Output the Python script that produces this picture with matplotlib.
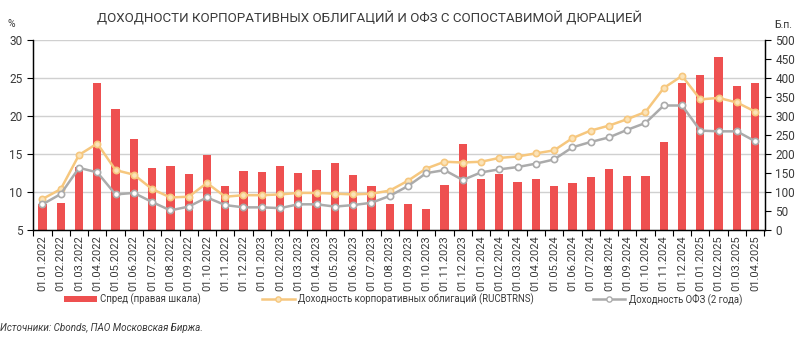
import matplotlib
matplotlib.use("Agg")
import matplotlib.pyplot as plt
from matplotlib.lines import Line2D
from matplotlib.patches import Patch
import numpy as np

plt.rcParams['font.family'] = ['Roboto', 'DejaVu Sans']

dates = [f"01.{m:02d}.{y}" for y in (2022, 2023, 2024, 2025) for m in range(1, 13)][:40]

spread_bp = [70, 72, 165, 386, 318, 240, 164, 169, 147, 198, 116, 155,
             154, 170, 151, 157, 177, 146, 115, 68, 70, 55, 118, 226,
             135, 149, 126, 135, 116, 125, 140, 161, 143, 143, 231, 388,
             407, 456, 380, 388]

corp_yield = [9.1, 10.4, 14.9, 16.4, 12.9, 12.3, 10.4, 9.3, 9.4, 11.2, 9.4, 9.6,
              9.6, 9.7, 9.9, 9.9, 9.8, 9.7, 9.8, 10.2, 11.5, 13.1, 14.0, 13.9,
              14.0, 14.5, 14.7, 15.1, 15.5, 17.1, 18.1, 18.75, 19.6, 20.55, 23.7, 25.3,
              22.2, 22.4, 21.8, 20.6]

ofz_yield = [8.4, 9.75, 13.2, 12.6, 9.7, 9.9, 8.7, 7.6, 8.1, 9.3, 8.3, 8.0,
             8.0, 7.9, 8.4, 8.4, 8.1, 8.3, 8.6, 9.5, 10.8, 12.5, 12.9, 11.6,
             12.6, 13.0, 13.3, 13.75, 14.3, 15.9, 16.6, 17.2, 18.2, 19.1, 21.4, 21.4,
             18.1, 18.0, 18.0, 16.7]

title = "ДОХОДНОСТИ КОРПОРАТИВНЫХ ОБЛИГАЦИЙ И ОФЗ С СОПОСТАВИМОЙ ДЮРАЦИЕЙ"
lbl_spread = "Спред (правая шкала)"
lbl_corp = "Доходность корпоративных облигаций (RUCBTRNS)"
lbl_ofz = "Доходность ОФЗ (2 года)"
source = "Источники: Cbonds, ПАО Московская Биржа."

RED = "#EE5050"
ORANGE = "#F6C77E"
GREY = "#ABABAB"
TXT = "#3A3A3A"

fig = plt.figure(figsize=(8.0, 3.43), dpi=100)
ax = fig.add_axes([0.041, 0.329, 0.915, 0.554])
ax2 = ax.twinx()

x = np.arange(len(dates))

# bars on the right (basis points) scale
ax2.bar(x, spread_bp, width=0.45, color=RED, zorder=2)
ax2.set_ylim(0, 500)
ax2.set_yticks(np.arange(0, 501, 50))
for v in range(100, 501, 100):
    ax2.axhline(v, color="#D0D0D0", lw=1.0, zorder=0)

# yields on the left (%) scale, drawn above the bars
ax.set_zorder(ax2.get_zorder() + 1)
ax.patch.set_visible(False)
ax.plot(x, corp_yield, color=ORANGE, lw=1.8, marker="o", ms=4.5,
        mfc="#FBE3B8", mec=ORANGE, mew=1.2, zorder=3)
ax.plot(x, ofz_yield, color=GREY, lw=1.8, marker="o", ms=4.5,
        mfc="white", mec=GREY, mew=1.2, zorder=3)
ax.set_ylim(5, 30)
ax.set_yticks(np.arange(5, 31, 5))
ax.set_xlim(-0.53, 39.53)

ax.set_xticks(x)
ax.set_xticklabels(dates, rotation=90, fontsize=8, color=TXT)
ax.set_xticks(np.arange(-0.5, 40, 1), minor=True)
ax.tick_params(axis="x", which="major", length=0, pad=4)
ax.tick_params(axis="x", which="minor", length=4, width=0.8, color="black")
ax.tick_params(axis="y", labelsize=8.5, labelcolor=TXT, length=4, width=0.8)
ax2.tick_params(axis="y", labelsize=8.5, labelcolor=TXT, length=4, width=0.8)

for a in (ax, ax2):
    a.spines["top"].set_visible(False)
    for s in ("left", "right", "bottom"):
        a.spines[s].set_linewidth(0.9)
        a.spines[s].set_color("black")

fig.text(0.462, 0.945, title, ha="center", va="center", fontsize=9.6,
         color=TXT)
fig.text(0.010, 0.930, "%", fontsize=7.5, color=TXT, va="center")
fig.text(0.979, 0.927, "Б.п.", fontsize=7.5, color=TXT, va="center", ha="center")

# three legend entries placed separately along the bottom
entries = [
    (Patch(facecolor=RED, edgecolor="none"), lbl_spread, 0.080),
    (Line2D([0], [0], color=ORANGE, lw=1.8, marker="o", ms=3.8,
            mfc="#FBE3B8", mec=ORANGE), lbl_corp, 0.3275),
    (Line2D([0], [0], color=GREY, lw=1.8, marker="o", ms=3.8,
            mfc="white", mec=GREY), lbl_ofz, 0.741),
]
for handle, label, xpos in entries:
    fig.legend([handle], [label], loc="center left", frameon=False,
               bbox_to_anchor=(xpos, 0.128), fontsize=6.9, borderpad=0,
               borderaxespad=0, handlelength=3.4, handleheight=0.55,
               handletextpad=0.4, labelcolor=TXT)

fig.text(0.0, 0.045, source, fontsize=7.1, style="italic", color=TXT, va="center")

fig.savefig("out.png", dpi=100)
